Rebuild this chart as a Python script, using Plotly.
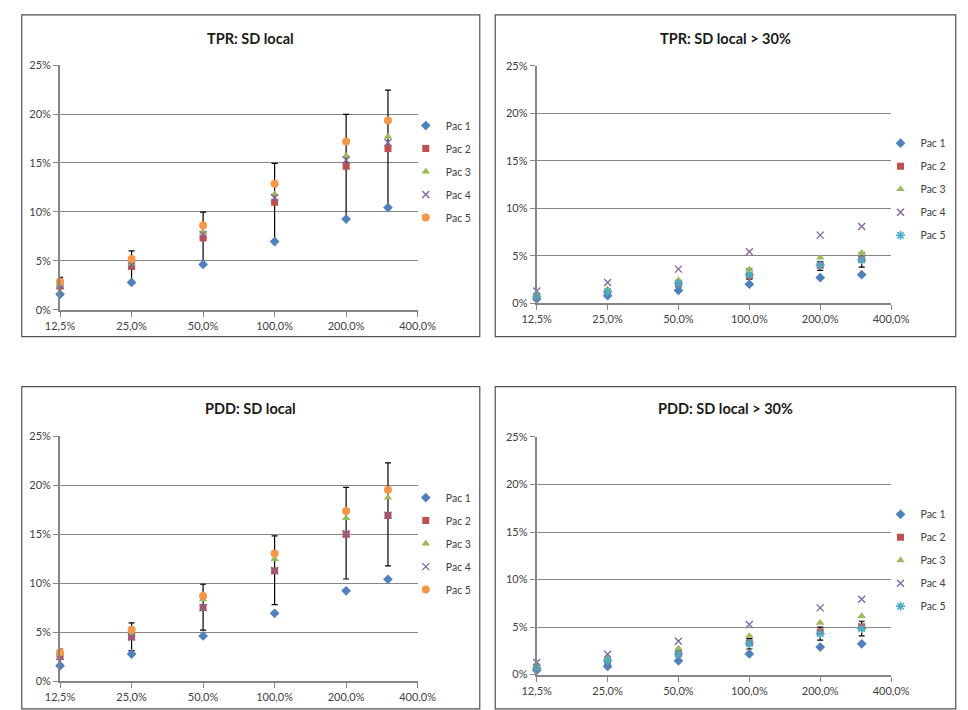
import plotly.graph_objects as go

# ---------------- data ----------------
x_vals = [12.5, 25, 50, 100, 200, 300]
x_tickvals = [12.5, 25, 50, 100, 200, 400]
x_ticktext = ["12,5%", "25,0%", "50,0%", "100,0%", "200,0%", "400,0%"]
y_tickvals = [0, 5, 10, 15, 20, 25]
y_ticktext = ["0%", "5%", "10%", "15%", "20%", "25%"]
series_names = ["Pac 1", "Pac 2", "Pac 3", "Pac 4", "Pac 5"]
panel_titles = ["TPR: SD local", "TPR: SD local > 30%", "PDD: SD local", "PDD: SD local > 30%"]

# TPR: SD local
tpr_pac1 = [1.57, 2.78, 4.62, 6.96, 9.27, 10.44]
tpr_pac2 = [2.41, 4.42, 7.33, 10.98, 14.66, 16.47]
tpr_pac3 = [2.60, 4.70, 7.93, 11.81, 15.73, 17.70]
tpr_pac4 = [2.50, 4.60, 7.70, 11.45, 15.30, 17.10]
tpr_pac5 = [2.88, 5.19, 8.60, 12.88, 17.20, 19.34]
tpr_err_top = [3.31, 6.02, 9.97, 14.96, 19.98, 22.46]
tpr_err_bottom = [1.51, 2.82, 4.69, 7.00, 9.34, 10.48]

# TPR: SD local > 30%
tpr30_pac1 = [0.45, 0.79, 1.34, 2.00, 2.69, 3.00]
tpr30_pac2 = [0.69, 1.14, 2.00, 2.86, 4.00, 4.62]
tpr30_pac3 = [0.86, 1.48, 2.41, 3.55, 4.79, 5.31]
tpr30_pac4 = [1.28, 2.17, 3.59, 5.41, 7.17, 8.07]
tpr30_pac5 = [0.72, 1.20, 2.07, 3.00, 4.03, 4.55]
tpr30_err_top = [0.90, 1.45, 2.40, 3.62, 4.38, 5.34]
tpr30_err_bottom = [0.50, 0.95, 1.75, 2.52, 3.45, 3.79]

# PDD: SD local
pdd_pac1 = [1.57, 2.77, 4.61, 6.92, 9.22, 10.39]
pdd_pac2 = [2.51, 4.51, 7.52, 11.26, 15.00, 16.91]
pdd_pac3 = [2.77, 4.90, 8.36, 12.47, 16.64, 18.75]
pdd_pac4 = [2.50, 4.50, 7.50, 11.30, 15.05, 16.95]
pdd_pac5 = [2.94, 5.25, 8.69, 13.03, 17.38, 19.55]
pdd_err_top = [3.28, 5.95, 9.89, 14.84, 19.79, 22.29]
pdd_err_bottom = [1.70, 3.11, 5.21, 7.82, 10.43, 11.76]

# PDD: SD local > 30%
pdd30_pac1 = [0.45, 0.86, 1.45, 2.17, 2.89, 3.24]
pdd30_pac2 = [0.79, 1.38, 2.20, 3.34, 4.48, 5.03]
pdd30_pac3 = [0.93, 1.72, 2.75, 4.06, 5.44, 6.16]
pdd30_pac4 = [1.27, 2.13, 3.51, 5.27, 7.02, 7.92]
pdd30_pac5 = [0.69, 1.45, 2.17, 3.27, 4.30, 4.82]
pdd30_err_top = [0.95, 1.65, 2.58, 3.79, 4.99, 5.61]
pdd30_err_bottom = [0.50, 1.05, 1.89, 2.69, 3.62, 4.06]

# ---------------- style ----------------
W, H = 968, 710
FONT = "Lato"
TEXT = "#404040"
GRID = "#868686"

def px_x(p):
    return p / W

def px_y(p):
    return 1 - p / H

# plot areas in pixels: (x0, x1, ytop, ybottom)
areas = [
    (46.7, 417.3, 59.3, 308.3),
    (540.7, 908.0, 60.0, 301.7),
    (46.7, 417.3, 437.3, 686.7),
    (540.7, 908.0, 438.0, 680.0),
]
# legend first-item centre (x of symbol, y)
legend_pos = [(425, 125), (917, 143), (425, 504), (917, 521)]
title_pos = [(244, 32), (736, 32), (244, 409), (736, 409)]
borders = [(7, 8, 481.7, 335.7), (497.7, 8, 975, 335.7),
           (7, 386.7, 481.7, 715), (497.7, 386.7, 975, 715)]

panels = [
    ([tpr_pac1, tpr_pac2, tpr_pac3, tpr_pac4, tpr_pac5], tpr_err_top, tpr_err_bottom, False),
    ([tpr30_pac1, tpr30_pac2, tpr30_pac3, tpr30_pac4, tpr30_pac5], tpr30_err_top, tpr30_err_bottom, True),
    ([pdd_pac1, pdd_pac2, pdd_pac3, pdd_pac4, pdd_pac5], pdd_err_top, pdd_err_bottom, False),
    ([pdd30_pac1, pdd30_pac2, pdd30_pac3, pdd30_pac4, pdd30_pac5], pdd30_err_top, pdd30_err_bottom, True),
]

base_markers = [
    dict(symbol="diamond", size=7.5, color="#4F81BD"),
    dict(symbol="square", size=7, color="#C0504D"),
    dict(symbol="triangle-up", size=7.5, color="#9BBB59"),
    dict(symbol="x-thin-open", size=7, color="#8064A2", line=dict(width=1.3, color="#8064A2")),
]
pac5_left = dict(symbol="circle", size=8, color="#F79646")
pac5_right = dict(symbol="asterisk-open", size=7.5, color="#4BACC6", line=dict(width=1.6, color="#4BACC6"))

# drawing order: series with error bars first so the other markers sit on top
draw_order = [1, 0, 2, 3, 4]

fig = go.Figure()
layout = {}
shapes = []
annotations = []

for i, (series, etop, ebot, right) in enumerate(panels):
    k = "" if i == 0 else str(i + 1)
    xa, ya = "x" + k, "y" + k
    lg = "legend" + k
    markers = base_markers + [pac5_right if right else pac5_left]
    for j in draw_order:
        name, vals = series_names[j], series[j]
        kw = {}
        if j == 1:
            kw["error_y"] = dict(
                type="data", symmetric=False,
                array=[t - v for t, v in zip(etop, vals)],
                arrayminus=[v - b for b, v in zip(ebot, vals)],
                color="#000000", thickness=1.2, width=3,
            )
        fig.add_trace(go.Scatter(
            x=x_vals, y=vals, name=name, mode="markers",
            marker=markers[j], xaxis=xa, yaxis=ya, legend=lg,
            legendgroup=f"p{i}-{j}", legendrank=1000 + j,
            cliponaxis=False, **kw,
        ))
    x0, x1, yt, yb = areas[i]
    layout["xaxis" + k] = dict(
        domain=[px_x(x0), px_x(x1)], anchor=ya, type="log",
        range=[1.09691, 2.60206],
        tickvals=x_tickvals, ticktext=x_ticktext,
        showgrid=False, zeroline=False, showline=True,
        linecolor=GRID, linewidth=2, ticks="outside", ticklen=5,
        tickcolor=GRID, tickwidth=1,
        tickfont=dict(family=FONT, size=11, color=TEXT),
    )
    layout["yaxis" + k] = dict(
        domain=[px_y(yb), px_y(yt)], anchor=xa, range=[0, 25],
        tickvals=y_tickvals, ticktext=y_ticktext,
        showgrid=True, gridcolor=GRID, gridwidth=1,
        zeroline=False, showline=True, linecolor=GRID, linewidth=2,
        ticks="outside", ticklen=5, tickcolor=GRID, tickwidth=1,
        tickfont=dict(family=FONT, size=11, color=TEXT),
    )
    lx, ly = legend_pos[i]
    layout[lg] = dict(
        x=px_x(lx - 20), y=px_y(ly - 19), xanchor="left", yanchor="top",
        bgcolor="rgba(0,0,0,0)", borderwidth=0,
        font=dict(family=FONT, size=10.5, color=TEXT),
        tracegroupgap=4, itemwidth=30, traceorder="grouped",
    )
    tx, ty = title_pos[i]
    annotations.append(dict(
        text="<b>" + panel_titles[i] + "</b>", x=px_x(tx), y=px_y(ty),
        xref="paper", yref="paper", showarrow=False,
        xanchor="center", yanchor="middle",
        font=dict(family=FONT, size=14.5, color="#1a1a1a"),
    ))
    bx0, by0, bx1, by1 = borders[i]
    shapes.append(dict(
        type="rect", xref="paper", yref="paper",
        x0=px_x(bx0), y0=px_y(by1), x1=px_x(bx1), y1=px_y(by0),
        line=dict(color="#505050", width=1.2), layer="below",
    ))

fig.update_layout(
    width=W, height=H, margin=dict(l=0, r=0, t=0, b=0),
    paper_bgcolor="white", plot_bgcolor="white",
    showlegend=True, shapes=shapes, annotations=annotations,
    **layout,
)

fig.write_html("out.html")
